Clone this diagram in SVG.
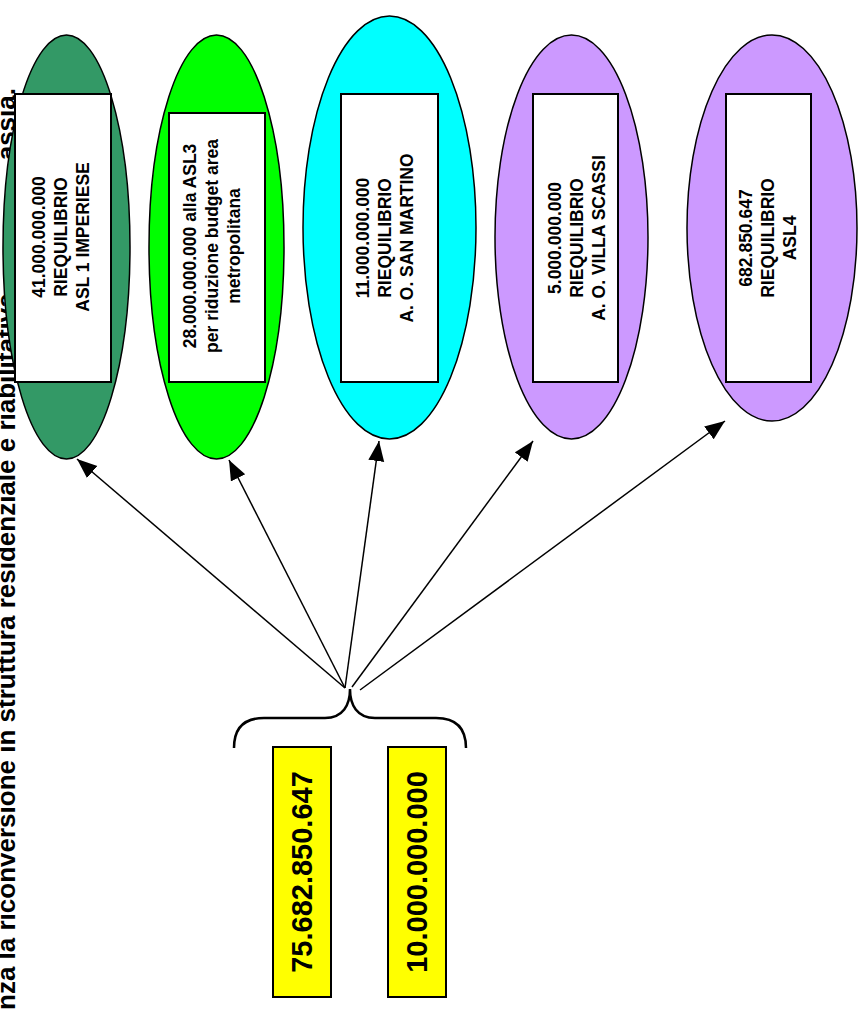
<svg xmlns="http://www.w3.org/2000/svg" width="858" height="1012" viewBox="0 0 858 1012">
<defs>
<marker id="ah" markerUnits="userSpaceOnUse" markerWidth="22" markerHeight="18" refX="20" refY="8" orient="auto"><path d="M0,0 L20,8 L0,16 Z" fill="#000"/></marker>
</defs>
<style>
.t{font-family:"Liberation Sans",Arial,sans-serif;font-weight:bold;fill:#000}
.n{font-size:17.5px;text-anchor:middle}
.box{fill:#fff;stroke:#000;stroke-width:2}
.ell{stroke:#000;stroke-width:1.5}
.yb{fill:#ffff00;stroke:#000;stroke-width:2}
.big{font-size:29px;text-anchor:middle}
#connectors line{stroke:#000;stroke-width:1.5;marker-end:url(#ah)}
</style>
<rect width="858" height="1012" fill="#fff"/>
<g id="title">
<text class="t" font-size="26" transform="translate(15,1010) rotate(-90)">nza la riconversione in struttura residenziale e riabilitativa</text>
<text class="t" font-size="26" text-anchor="end" transform="translate(15,88) rotate(-90)">assia.</text>
</g>
<g id="n1">
<ellipse class="ell" cx="66.5" cy="247" rx="63.5" ry="212" fill="#339966"/>
<rect class="box" x="15" y="94" width="96" height="288"/>
<text class="t n" transform="translate(61,237) rotate(-90)"><tspan x="0" y="-16">41.000.000.000</tspan><tspan x="0" y="6">RIEQUILIBRIO</tspan><tspan x="0" y="28">ASL 1 IMPERIESE</tspan></text>
</g>
<g id="n2">
<ellipse class="ell" cx="216.5" cy="247" rx="67.5" ry="212" fill="#00ff00"/>
<rect class="box" x="169" y="113" width="96" height="269"/>
<text class="t n" transform="translate(212,246) rotate(-90)"><tspan x="0" y="-16">28.000.000.000 alla ASL3</tspan><tspan x="0" y="6">per riduzione budget area</tspan><tspan x="0" y="28">metropolitana</tspan></text>
</g>
<g id="n3">
<ellipse class="ell" cx="389.5" cy="227.5" rx="86.5" ry="211.5" fill="#00ffff"/>
<rect class="box" x="341" y="94" width="97" height="288"/>
<text class="t n" transform="translate(385,238) rotate(-90)"><tspan x="0" y="-16">11.000.000.000</tspan><tspan x="0" y="6">RIEQUILIBRIO</tspan><tspan x="0" y="28">A. O. SAN MARTINO</tspan></text>
</g>
<g id="n4">
<ellipse class="ell" cx="571.5" cy="237" rx="76.5" ry="202" fill="#cc99ff"/>
<rect class="box" x="533" y="94" width="85" height="288"/>
<text class="t n" transform="translate(577,238) rotate(-90)"><tspan x="0" y="-16">5.000.000.000</tspan><tspan x="0" y="6">RIEQUILIBRIO</tspan><tspan x="0" y="28">A. O. VILLA SCASSI</tspan></text>
</g>
<g id="n5">
<ellipse class="ell" cx="772" cy="228" rx="85" ry="193" fill="#cc99ff"/>
<rect class="box" x="726" y="94" width="85" height="288"/>
<text class="t n" transform="translate(768,238) rotate(-90)"><tspan x="0" y="-16">682.850.647</tspan><tspan x="0" y="6">RIEQUILIBRIO</tspan><tspan x="0" y="28">ASL4</tspan></text>
</g>
<g id="b1">
<rect class="yb" x="273" y="747" width="58" height="250"/>
<text class="t big" transform="translate(302,872) rotate(-90)" y="10">75.682.850.647</text>
</g>
<g id="b2">
<rect class="yb" x="388" y="747" width="58" height="250"/>
<text class="t big" transform="translate(417,872) rotate(-90)" y="10">10.000.000.000</text>
</g>
<g id="brace">
<path d="M234,748 C234,728 244,718 264,718 L325,718 C343,718 350,705 350,689 C350,705 357,718 375,718 L436,718 C456,718 466,728 466,748" fill="none" stroke="#000" stroke-width="2.5"/>
</g>
<g id="connectors">
<line x1="345" y1="688" x2="77" y2="459"/>
<line x1="345" y1="688" x2="229" y2="460"/>
<line x1="345" y1="688" x2="379" y2="441"/>
<line x1="352" y1="687" x2="533" y2="441"/>
<line x1="360" y1="690" x2="725" y2="421"/>
</g>
</svg>
